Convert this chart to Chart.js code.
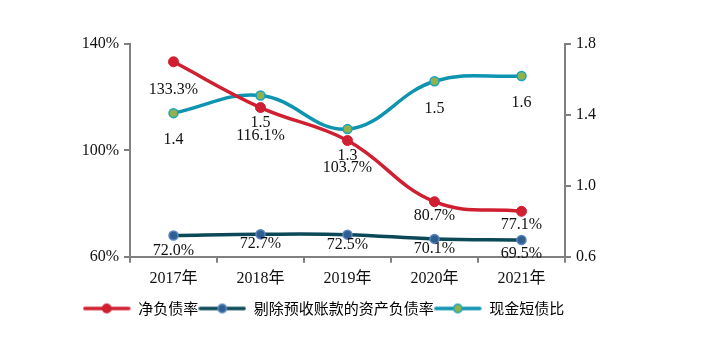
<!DOCTYPE html>
<html>
<head>
<meta charset="utf-8">
<script src="https://cdn.jsdelivr.net/npm/chart.js@4.4.1/dist/chart.umd.min.js"></script>
<style>
  html, body { margin: 0; padding: 0; background: #ffffff; }
  #wrap { width: 701px; height: 350px; position: relative; }
</style>
</head>
<body>
<div id="wrap"><canvas id="c" width="701" height="350"></canvas></div>
<script>
// ---- data ----
const categories = ['2017年', '2018年', '2019年', '2020年', '2021年'];
const seriesNames = ['净负债率', '剔除预收账款的资产负债率', '现金短债比'];
const netDebtRatio = [133.3, 116.1, 103.7, 80.7, 77.1];          // %, left axis
const adjustedDebtRatio = [0.720, 0.727, 0.725, 0.701, 0.695];   // ratio, right axis, labelled as %
const cashShortDebtRatio = [1.41, 1.51, 1.32, 1.59, 1.62];       // right axis
const cashShortDebtLabels = ['1.4', '1.5', '1.3', '1.5', '1.6'];
const leftTicks = [60, 100, 140];
const rightTicks = [0.6, 1.0, 1.4, 1.8];

// ---- styles ----
const RED = '#cf1f31';
const DARK = '#0b4957';
const CYAN = '#0e93b0';
const AXIS = '#808080';
const SERIF = '"Liberation Serif", "Times New Roman", "Noto Sans CJK SC", serif';
const CJK = '"Noto Sans CJK SC", "Noto Sans", sans-serif';

function legendIcon(lineColor, fill, border) {
  const cv = document.createElement('canvas');
  cv.width = 48; cv.height = 12;
  const g = cv.getContext('2d');
  g.strokeStyle = lineColor; g.lineWidth = 3.5; g.lineCap = 'round';
  g.beginPath(); g.moveTo(2, 6); g.lineTo(46, 6); g.stroke();
  g.beginPath(); g.arc(24, 6, 4.2, 0, Math.PI * 2);
  g.fillStyle = fill; g.fill();
  g.lineWidth = 1.5; g.strokeStyle = border; g.stroke();
  return cv;
}

const labelOffsets = [
  [28, 28, 27, 14, 13],
  [15, 10, 10, 10, 14],
  [27, 27, 27, 28, 27]
];

const labelPlugin = {
  id: 'valueLabels',
  afterDatasetsDraw(chart) {
    const ctx = chart.ctx;
    ctx.save();
    ctx.font = '16px ' + SERIF;
    ctx.fillStyle = '#111111';
    ctx.textAlign = 'center';
    ctx.textBaseline = 'middle';
    chart.data.datasets.forEach((ds, di) => {
      const meta = chart.getDatasetMeta(di);
      meta.data.forEach((pt, i) => {
        let txt;
        if (di === 0) txt = ds.data[i].toFixed(1) + '%';
        else if (di === 1) txt = (ds.data[i] * 100).toFixed(1) + '%';
        else txt = cashShortDebtLabels[i];
        ctx.fillText(txt, pt.x, pt.y + labelOffsets[di][i]);
      });
    });
    ctx.restore();
  }
};

new Chart(document.getElementById('c'), {
  type: 'line',
  data: {
    labels: categories,
    datasets: [
      {
        label: seriesNames[0], data: netDebtRatio, yAxisID: 'yL',
        borderColor: RED, backgroundColor: RED, borderWidth: 3.5,
        pointRadius: 5, pointBackgroundColor: RED, pointBorderColor: RED, pointBorderWidth: 1,
        tension: 0.4, cubicInterpolationMode: 'default'
      },
      {
        label: seriesNames[1], data: adjustedDebtRatio, yAxisID: 'yR',
        borderColor: DARK, backgroundColor: DARK, borderWidth: 3.5,
        pointRadius: 4.5, pointBackgroundColor: '#2f5f92', pointBorderColor: '#5b86c0', pointBorderWidth: 1.5,
        tension: 0.4
      },
      {
        label: seriesNames[2], data: cashShortDebtRatio, yAxisID: 'yR',
        borderColor: CYAN, backgroundColor: CYAN, borderWidth: 3.5,
        pointRadius: 4.5, pointBackgroundColor: '#8fb24e', pointBorderColor: '#19a3bf', pointBorderWidth: 1.5,
        tension: 0.4
      }
    ]
  },
  options: {
    responsive: false,
    animation: false,
    devicePixelRatio: 1,
    layout: { padding: { left: 16, right: 70, top: 44, bottom: 24 } },
    plugins: {
      tooltip: { enabled: false },
      legend: {
        position: 'bottom',
        labels: {
          font: { family: CJK, size: 15 },
          color: '#111111',
          usePointStyle: true,
          pointStyleWidth: 48,
          padding: 0,
          generateLabels(chart) {
            const icons = [
              legendIcon(RED, RED, RED),
              legendIcon(DARK, '#2f5f92', '#5b86c0'),
              legendIcon(CYAN, '#8fb24e', '#19a3bf')
            ];
            return chart.data.datasets.map((ds, i) => ({
              text: ds.label, pointStyle: icons[i], datasetIndex: i,
              fillStyle: ds.borderColor, strokeStyle: ds.borderColor, lineWidth: 0, hidden: false
            }));
          }
        }
      }
    },
    scales: {
      x: {
        offset: true,
        afterFit(s) { s.height += 7; },
        grid: { display: true, offset: true, drawOnChartArea: false, color: AXIS, lineWidth: 2, tickLength: 6 },
        border: { display: true, color: AXIS, width: 2 },
        ticks: { font: { family: SERIF, size: 16 }, color: '#111111', padding: 6 }
      },
      yL: {
        position: 'left', min: 60, max: 140,
        afterFit(s) { s.width = 114; },
        afterBuildTicks(s) { s.ticks = leftTicks.map(v => ({ value: v })); },
        grid: { display: true, drawOnChartArea: false, color: AXIS, lineWidth: 2, tickLength: 6 },
        border: { display: true, color: AXIS, width: 2 },
        ticks: { font: { family: SERIF, size: 16 }, color: '#111111', padding: 5, callback: v => v + '%' }
      },
      yR: {
        position: 'right', min: 0.6, max: 1.8,
        afterFit(s) { s.width = 66; },
        afterBuildTicks(s) { s.ticks = rightTicks.map(v => ({ value: v })); },
        grid: { display: true, drawOnChartArea: false, color: AXIS, lineWidth: 2, tickLength: 6 },
        border: { display: true, color: AXIS, width: 2 },
        ticks: { font: { family: SERIF, size: 16 }, color: '#111111', padding: 5, callback: v => Number(v).toFixed(1) }
      }
    }
  },
  plugins: [labelPlugin]
});
</script>
</body>
</html>
